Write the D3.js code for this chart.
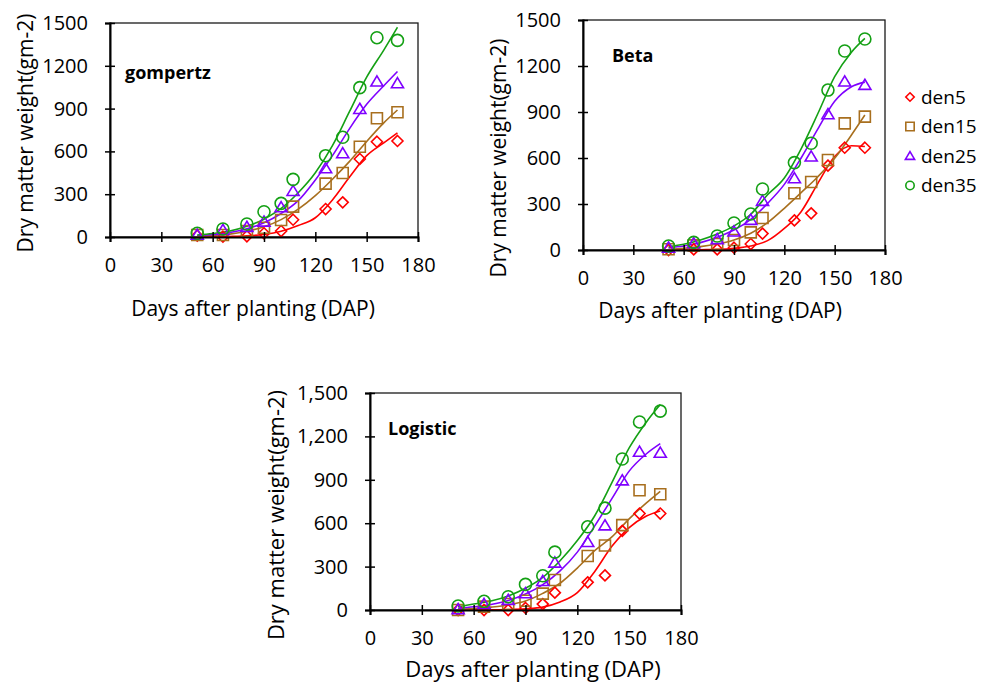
<!DOCTYPE html>
<html lang="en">
<head>
<meta charset="UTF-8">
<title>Dry matter growth fits</title>
<script src="https://d3js.org/d3.v7.min.js"></script>
<style>
  body { margin: 0; background: #fff; }
  text { font-family: "Open Sans", "Noto Sans", sans-serif; fill: #000; }
</style>
</head>
<body>
<svg width="988" height="686"></svg>
<script>
// sampling days (DAP) of the observed points
const obsDays = [51, 66, 80, 90, 100, 107, 126, 136, 146, 156, 168];
const fitDays = [51, 60, 70, 80, 90, 100, 110, 120, 130, 140, 150, 160, 168];

const seriesNames = ["den5", "den15", "den25", "den35"];
const seriesColors = ["#ff0000", "#a86f1e", "#7f00ff", "#14a014"];
const seriesShapes = ["diamond", "square", "triangle", "circle"];

const xTicks = [0, 30, 60, 90, 120, 150, 180];
const yTicks = [0, 300, 600, 900, 1200, 1500];

// observed values, one row per series (den5, den15, den25, den35)
const gompertzObs = [
  [9, 2, 5, 26, 42, 121, 196, 243, 547, 668, 673],
  [14, 14, 42, 65, 119, 213, 374, 449, 633, 832, 874],
  [15, 49, 70, 107, 208, 322, 481, 586, 897, 1089, 1077],
  [26, 56, 91, 177, 236, 404, 570, 699, 1047, 1397, 1378]
];
const betaObs = [
  [0, 4, 4, 15, 39, 107, 193, 239, 550, 667, 667],
  [5, 30, 39, 65, 115, 209, 370, 443, 587, 826, 870],
  [15, 43, 70, 120, 196, 320, 467, 609, 885, 1098, 1076],
  [26, 50, 91, 176, 235, 398, 570, 696, 1043, 1298, 1376]
];
const logisticObs = [
  [0, 0, 0, 14, 41, 120, 191, 239, 547, 667, 667],
  [0, 23, 41, 64, 113, 207, 373, 446, 587, 828, 800],
  [5, 41, 69, 115, 200, 327, 469, 584, 895, 1093, 1086],
  [28, 60, 92, 177, 237, 400, 575, 704, 1044, 1300, 1375]
];

// fitted curves read at fitDays
const gompertzFit = [
  [1, 2, 4, 8, 18, 40, 80, 135, 260, 420, 570, 660, 730],
  [5, 10, 20, 40, 72, 122, 195, 290, 405, 530, 670, 800, 890],
  [10, 18, 32, 58, 100, 165, 255, 400, 570, 760, 930, 1060, 1160],
  [14, 24, 42, 75, 125, 200, 310, 450, 640, 880, 1120, 1310, 1470]
];
const betaFit = [
  [0, 0, 2, 4, 11, 26, 61, 141, 250, 435, 610, 680, 675],
  [4, 11, 22, 39, 65, 109, 178, 272, 374, 478, 598, 750, 880],
  [15, 26, 48, 83, 130, 200, 304, 428, 600, 790, 970, 1065, 1095],
  [22, 37, 65, 104, 157, 233, 360, 470, 660, 890, 1130, 1290, 1380]
];
const logisticFit = [
  [0, 0, 1, 3, 8, 20, 55, 120, 265, 440, 570, 650, 685],
  [5, 10, 20, 35, 62, 115, 185, 290, 410, 505, 630, 740, 820],
  [12, 22, 38, 65, 110, 175, 270, 400, 580, 770, 960, 1080, 1150],
  [23, 41, 62, 97, 150, 225, 340, 480, 650, 880, 1120, 1300, 1420]
];

const panels = [
  { label: "gompertz", obs: gompertzObs, fit: gompertzFit, fmt: d3.format("d"),
    left: 110, right: 418, bottom: 237, top: 23, titleSize: 21,
    labelPos: [125, 79], xTitle: [253, 316], yTitle: [26, 133] },
  { label: "Beta", obs: betaObs, fit: betaFit, fmt: d3.format("d"),
    left: 583, right: 885, bottom: 250, top: 20, titleSize: 21,
    labelPos: [612, 62], xTitle: [720, 318], yTitle: [499, 158] },
  { label: "Logistic", obs: logisticObs, fit: logisticFit, fmt: d3.format(","),
    left: 370, right: 681, bottom: 610, top: 393, titleSize: 22,
    labelPos: [388, 435], xTitle: [533, 677], yTitle: [276, 515] }
];

const svg = d3.select("svg");

function marker(sel, shape, r, color) {
  if (shape === "circle") {
    sel.append("circle").attr("r", r);
  } else {
    let p;
    if (shape === "diamond") p = `M0,${-r}L${r},0L0,${r}L${-r},0Z`;
    else if (shape === "square") p = `M${-r},${-r}H${r}V${r}H${-r}Z`;
    else p = `M0,${-r * 1.05}L${r * 1.1},${r * 0.8}L${-r * 1.1},${r * 0.8}Z`;
    sel.append("path").attr("d", p);
  }
  sel.selectAll("*")
    .attr("fill", "none")
    .attr("stroke", color)
    .attr("stroke-width", 1.6);
}

panels.forEach(p => {
  const x = d3.scaleLinear().domain([0, 180]).range([p.left, p.right]);
  const y = d3.scaleLinear().domain([0, 1500]).range([p.bottom, p.top]);
  const g = svg.append("g");

  // plot frame
  g.append("rect")
    .attr("x", p.left).attr("y", p.top)
    .attr("width", p.right - p.left).attr("height", p.bottom - p.top)
    .attr("fill", "none").attr("stroke", "#1a1a1a").attr("stroke-width", 1.3);

  // fitted curves
  const line = d3.line()
    .x((d, i) => x(fitDays[i]))
    .y(d => y(d))
    .curve(d3.curveMonotoneX);
  p.fit.forEach((vals, s) => {
    g.append("path")
      .attr("d", line(vals))
      .attr("fill", "none")
      .attr("stroke", seriesColors[s])
      .attr("stroke-width", 1.6);
  });

  // observed points
  p.obs.forEach((vals, s) => {
    vals.forEach((v, i) => {
      const m = g.append("g").attr("transform", `translate(${x(obsDays[i])},${y(v)})`);
      marker(m, seriesShapes[s], seriesShapes[s] === "circle" ? 6 : 5.5, seriesColors[s]);
    });
  });

  // axes with crossing ticks
  const xAxis = g.append("g")
    .attr("transform", `translate(0,${p.bottom})`)
    .call(d3.axisBottom(x).tickValues(xTicks).tickSize(5).tickPadding(16))
  xAxis.selectAll(".tick line").attr("y1", -5).attr("stroke-width", 1.5);
  xAxis.select(".domain").attr("stroke-width", 2);
  xAxis.selectAll("text").attr("font-size", "20px");

  const yAxis = g.append("g")
    .attr("transform", `translate(${p.left},0)`)
    .call(d3.axisLeft(y).tickValues(yTicks).tickFormat(p.fmt).tickSize(5).tickPadding(17));
  yAxis.selectAll(".tick line").attr("x1", 5).attr("stroke-width", 1.5);
  yAxis.select(".domain").attr("stroke-width", 2);
  yAxis.selectAll("text").attr("font-size", "20px");
  svg.selectAll(".domain").attr("stroke", "#000");
  svg.selectAll(".tick text").style("font-family", '"Open Sans", sans-serif');

  // panel label
  g.append("text")
    .attr("x", p.labelPos[0]).attr("y", p.labelPos[1])
    .attr("font-size", "18px").attr("font-weight", "bold")
    .text(p.label);

  // axis titles
  g.append("text")
    .attr("x", p.xTitle[0]).attr("y", p.xTitle[1])
    .attr("text-anchor", "middle").attr("font-size", p.titleSize + "px")
    .text("Days after planting (DAP)");
  g.append("text")
    .attr("transform", `translate(${p.yTitle[0]},${p.yTitle[1]}) rotate(-90)`)
    .attr("text-anchor", "middle").attr("dy", "0.35em").attr("font-size", p.titleSize + "px")
    .text("Dry matter weight(gm-2)");
});

// legend (beside the Beta panel)
const legend = svg.append("g");
seriesNames.forEach((name, s) => {
  const yPos = 97 + s * 29.5;
  const m = legend.append("g").attr("transform", `translate(910,${yPos})`);
  marker(m, seriesShapes[s], 4.2, seriesColors[s]);
  legend.append("text")
    .attr("x", 921).attr("y", yPos).attr("dy", "0.35em")
    .attr("font-size", "19px")
    .text(name);
});
</script>
</body>
</html>
